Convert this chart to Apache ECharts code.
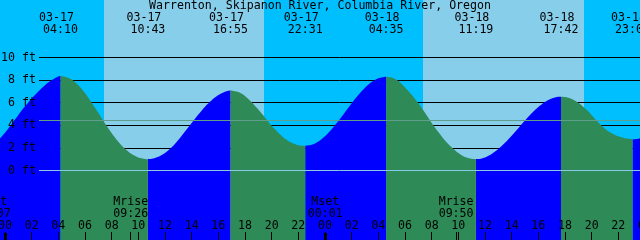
<!DOCTYPE html>
<html><head><meta charset="utf-8">
<script src="https://cdn.jsdelivr.net/npm/echarts@6/dist/echarts.min.js"></script>
<style>html,body{margin:0;padding:0;background:#00BFFF}#c{width:640px;height:240px}</style>
</head><body><div id="c"></div>
<script>
// ---- data ----
const stationTitle = 'Warrenton, Skipanon River, Columbia River, Oregon';
// hours counted from 03-17 00:00
const extremeHours = [4.167, 10.717, 16.917, 22.517, 28.583, 35.317, 41.7, 47.067];
const extremeDates = ['03-17', '03-17', '03-17', '03-17', '03-18', '03-18', '03-18', '03-18'];
const extremeTimes = ['04:10', '10:43', '16:55', '22:31', '04:35', '11:19', '17:42', '23:04'];
const tideHours = [
  -2.0, -1.5, -1.0, -0.5, 0.0, 0.5, 1.0, 1.5, 2.0, 2.5, 3.0, 3.5, 4.0, 4.167,
  4.5, 5.0, 5.5, 6.0, 6.5, 7.0, 7.5, 8.0, 8.5, 9.0, 9.5, 10.0, 10.5, 10.717,
  11.0, 11.5, 12.0, 12.5, 13.0, 13.5, 14.0, 14.5, 15.0, 15.5, 16.0, 16.5, 16.917,
  17.5, 18.0, 18.5, 19.0, 19.5, 20.0, 20.5, 21.0, 21.5, 22.0, 22.517,
  23.0, 23.5, 24.0, 24.5, 25.0, 25.5, 26.0, 26.5, 27.0, 27.5, 28.0, 28.583,
  29.0, 29.5, 30.0, 30.5, 31.0, 31.5, 32.0, 32.5, 33.0, 33.5, 34.0, 34.5, 35.0, 35.317,
  35.5, 36.0, 36.5, 37.0, 37.5, 38.0, 38.5, 39.0, 39.5, 40.0, 40.5, 41.0, 41.5, 41.7,
  42.0, 42.5, 43.0, 43.5, 44.0, 44.5, 45.0, 45.5, 46.0, 46.5, 47.067,
  47.5, 48.0, 48.5
];
const tideFeet = [
  1.70, 1.82, 2.15, 2.68, 3.35, 4.12, 4.92, 5.68, 6.38, 7.00, 7.55, 8.00, 8.32, 8.36,
  8.30, 8.05, 7.55, 6.85, 6.00, 5.10, 4.15, 3.30, 2.55, 1.92, 1.45, 1.15, 1.02, 1.00,
  1.03, 1.22, 1.55, 2.05, 2.70, 3.45, 4.20, 4.95, 5.65, 6.22, 6.68, 6.98, 7.08,
  6.95, 6.60, 6.05, 5.40, 4.70, 3.95, 3.35, 2.82, 2.45, 2.24, 2.18,
  2.27, 2.57, 3.04, 3.66, 4.38, 5.16, 5.95, 6.68, 7.33, 7.83, 8.17, 8.30,
  8.22, 7.92, 7.35, 6.70, 5.95, 5.10, 4.20, 3.40, 2.65, 2.05, 1.55, 1.20, 1.03, 1.00,
  1.01, 1.16, 1.46, 1.90, 2.45, 3.08, 3.75, 4.43, 5.06, 5.62, 6.06, 6.37, 6.52, 6.53,
  6.50, 6.33, 6.00, 5.50, 4.90, 4.25, 3.70, 3.30, 3.02, 2.85, 2.77,
  2.82, 3.00, 3.30
];
const depthLevels = [0, 2, 4, 6, 8, 10];
const meanLevel = 4.42;
const dayStartHours = [7.42, 31.38];
const dayEndHours = [19.42, 43.43];
const moonHours = [-0.883, 9.433, 24.017, 33.833];
const moonEvents = ['Mset', 'Mrise', 'Mset', 'Mrise'];
const moonTimes = ['23:07', '09:26', '00:01', '09:50'];
const dayBoundaryHours = [0, 24, 48];

// ---- styles ----
const nightColor = '#00BFFF', dayColor = '#87CEEB';
const floodColor = '#0000FF', ebbColor = '#2E8B57';
const meanColor = '#5E9E8A', datumColor = '#86C8E6';
const FONT = 'DejaVu Sans Mono', FS = 11.6;
const Y_MIN = -6.1504, Y_MAX = 15.0885;

// split curve into rising / falling pieces at the extremes
const rising = [], falling = [];
let seg = [];
for (let i = 0; i < tideHours.length; i++) {
  const h = tideHours[i];
  seg.push([h, tideFeet[i]]);
  if (extremeHours.includes(h) || i === tideHours.length - 1) {
    const target = seg[seg.length - 1][1] > seg[0][1] ? rising : falling;
    if (target.length) target.push([seg[0][0], '-']);
    target.push(...seg);
    seg = [[h, tideFeet[i]]];
  }
}

const txt = (text, x, y, align) => ({
  type: 'text', x, y,
  style: { text, fill: '#000', fontFamily: FONT, fontSize: FS, align: align || 'center', verticalAlign: 'middle' }
});
const crisp = v => Math.floor(v) + 0.5;

const chart = echarts.init(document.getElementById('c'), null, { renderer: 'canvas', width: 640, height: 240 });
chart.setOption({
  animation: false,
  backgroundColor: nightColor,
  grid: [
    { left: -21.667, right: -5, top: 0, bottom: 0, outerBoundsMode: 'none', containLabel: false },
    { left: 39, right: 0, top: 57.5, bottom: 69.5, outerBoundsMode: 'none', containLabel: false }
  ],
  xAxis: [
    {
      type: 'value', gridIndex: 0, min: -2, max: 48, interval: 2, z: 6, position: 'bottom',
      axisLine: { show: false, onZero: false }, splitLine: { show: false },
      axisTick: { show: true, inside: true, length: 8, lineStyle: { color: '#000', width: 1 } },
      axisLabel: {
        show: true, inside: true, margin: 14.5, verticalAlign: 'middle',
        formatter: v => String(((v % 24) + 24) % 24).padStart(2, '0'),
        fontFamily: FONT, fontSize: FS, color: '#000', showMinLabel: true, showMaxLabel: true, hideOverlap: false
      }
    },
    { type: 'value', gridIndex: 1, min: 0, max: 1, show: false }
  ],
  yAxis: [
    { type: 'value', gridIndex: 0, min: Y_MIN, max: Y_MAX, show: false },
    {
      type: 'value', gridIndex: 1, min: 0, max: 10, interval: 2, z: 1,
      axisLine: { show: false }, axisTick: { show: false }, axisLabel: { show: false },
      splitLine: { show: true, lineStyle: { color: '#000', width: 1 } }
    }
  ],
  series: [
    {
      type: 'custom', xAxisIndex: 0, yAxisIndex: 0, z: 0, silent: true,
      data: dayStartHours.map((s, i) => [s, dayEndHours[i]]),
      renderItem: (params, api) => {
        const cs = params.coordSys;
        const x0 = api.coord([api.value(0), 0])[0], x1 = api.coord([api.value(1), 0])[0];
        return { type: 'rect', shape: { x: Math.round(x0), y: cs.y, width: Math.round(x1) - Math.round(x0), height: cs.height }, style: { fill: dayColor } };
      }
    },
    {
      type: 'line', xAxisIndex: 0, yAxisIndex: 0, z: 2, data: rising, showSymbol: false, smooth: 0.3,
      connectNulls: false, silent: true, lineStyle: { opacity: 0 },
      areaStyle: { color: floodColor, opacity: 1, origin: 'start' }
    },
    {
      type: 'line', xAxisIndex: 0, yAxisIndex: 0, z: 2, data: falling, showSymbol: false, smooth: 0.3,
      connectNulls: false, silent: true, lineStyle: { opacity: 0 },
      areaStyle: { color: ebbColor, opacity: 1, origin: 'start' }
    },
    {
      type: 'custom', xAxisIndex: 1, yAxisIndex: 1, z: 3, silent: true,
      data: [[0, meanLevel, 0], [0, 0, 1]],
      renderItem: (params, api) => {
        const cs = params.coordSys;
        const y = crisp(api.coord([0, api.value(1)])[1]);
        return { type: 'line', shape: { x1: cs.x, y1: y, x2: cs.x + cs.width, y2: y }, style: { stroke: api.value(2) ? datumColor : meanColor, lineWidth: 1 } };
      }
    },
    {
      type: 'custom', xAxisIndex: 1, yAxisIndex: 1, z: 4, silent: true,
      data: depthLevels.map(v => [0, v]),
      renderItem: (params, api) => {
        const cs = params.coordSys;
        const y = api.coord([0, api.value(1)])[1];
        return txt(api.value(1) + ' ft', cs.x - 3, y, 'right');
      }
    },
    {
      type: 'custom', xAxisIndex: 0, yAxisIndex: 0, z: 5, silent: true,
      data: extremeHours.map((h, i) => [h, i]),
      renderItem: (params, api) => {
        const x = api.coord([api.value(0), 0])[0];
        const i = api.value(1);
        return { type: 'group', children: [txt(extremeDates[i], x - 4, 17.5), txt(extremeTimes[i], x, 29.5)] };
      }
    },
    {
      type: 'custom', xAxisIndex: 0, yAxisIndex: 0, z: 5, silent: true,
      data: moonHours.map((h, i) => [h, i]),
      renderItem: (params, api) => {
        const cs = params.coordSys;
        const x = api.coord([api.value(0), 0])[0];
        const i = api.value(1);
        const yb = cs.y + cs.height;
        return { type: 'group', children: [
          txt(moonEvents[i], x, 201.5), txt(moonTimes[i], x, 213.5),
          { type: 'line', shape: { x1: crisp(x), y1: yb - 8, x2: crisp(x), y2: yb }, style: { stroke: '#000', lineWidth: 1 } }
        ] };
      }
    },
    {
      type: 'custom', xAxisIndex: 0, yAxisIndex: 0, z: 5, silent: true,
      data: dayBoundaryHours.map(h => [h, 0]),
      renderItem: (params, api) => {
        const cs = params.coordSys;
        const x = api.coord([api.value(0), 0])[0];
        const yb = cs.y + cs.height;
        return { type: 'rect', shape: { x: Math.round(x) - 1, y: yb - 7, width: 3, height: 7 }, style: { fill: '#000' } };
      }
    }
  ],
  graphic: [
    { type: 'text', x: 320, y: 6, z: 10, style: { text: stationTitle, fill: '#000', fontFamily: FONT, fontSize: FS, align: 'center', verticalAlign: 'middle' } }
  ]
});
</script></body></html>
